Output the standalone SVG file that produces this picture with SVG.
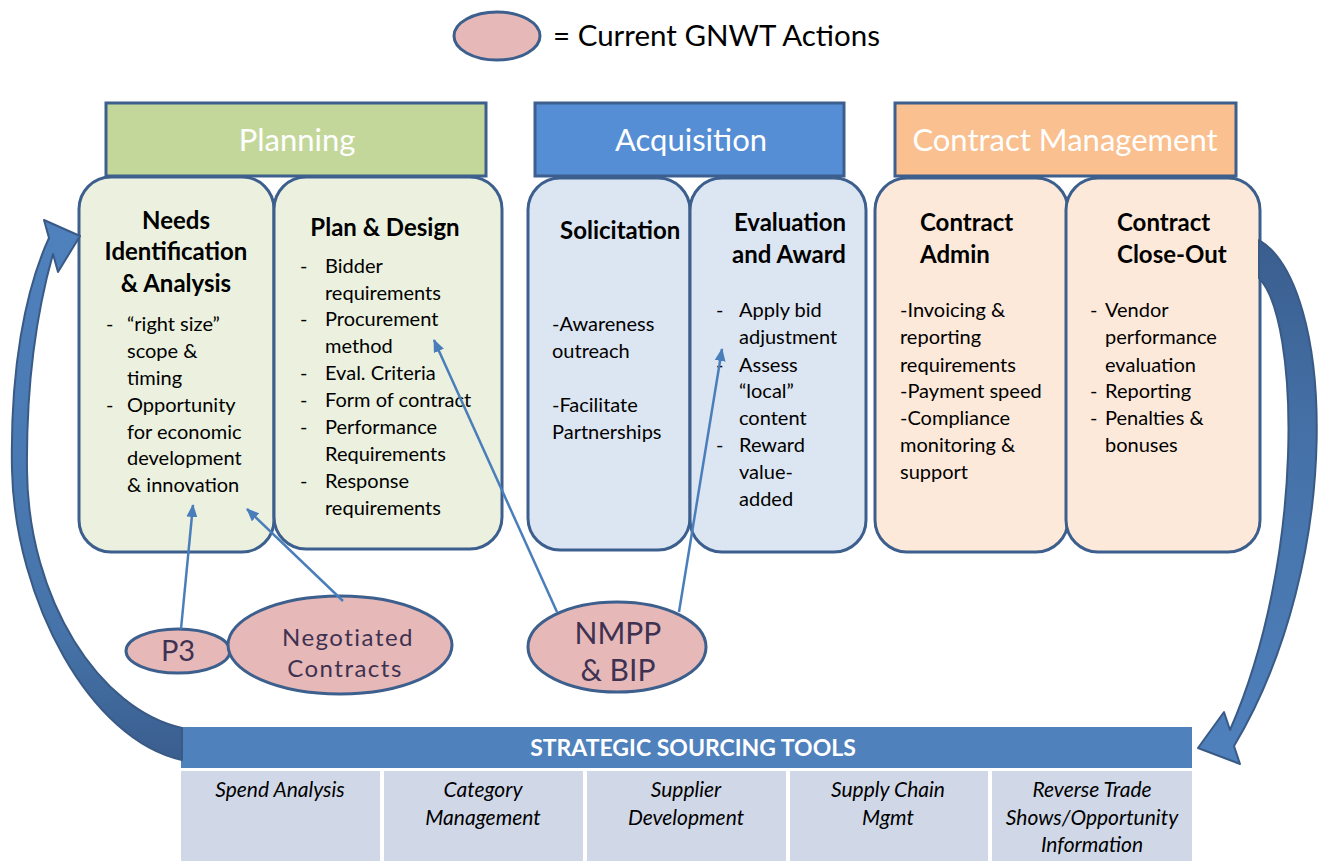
<svg xmlns="http://www.w3.org/2000/svg" width="1318" height="861" viewBox="0 0 1318 861">
  <style>
    text { font-family: Lato, "Liberation Sans", sans-serif; }
    .hdr { font-size: 31px; fill: #ffffff; text-anchor: middle; }
    .ttl { font-size: 24px; font-weight: bold; fill: #000000; }
    .mid { text-anchor: middle; }
    .txt { font-size: 20px; fill: #000000; }
    .box { stroke: #3C5F8D; stroke-width: 3; }
    .grn { fill: #EBF1DE; }
    .blu { fill: #DCE6F2; }
    .org { fill: #FDE9D9; }
    .oval { fill: #E6B9B8; stroke: #3C5F8D; stroke-width: 3; }
    .otx { fill: #3F3151; text-anchor: middle; }
    .conn { stroke: #4A7EBB; stroke-width: 2.5; fill: none; marker-end: url(#ah); }
    .cell { fill: #D0D8E8; }
    .ctx { font-size: 21px; font-style: italic; fill: #000000; text-anchor: middle; }
    .big { stroke: #3A5A86; stroke-width: 2; stroke-linejoin: round; }
  </style>
  <defs>
    <marker id="ah" markerUnits="userSpaceOnUse" markerWidth="13" markerHeight="11" refX="12" refY="5.5" orient="auto">
      <path d="M0,0 L13,5.5 L0,11 Z" fill="#4A7EBB"/>
    </marker>
    <linearGradient id="gL" gradientUnits="userSpaceOnUse" x1="0" y1="760" x2="0" y2="230">
      <stop offset="0" stop-color="#3A5E8E"/>
      <stop offset="0.25" stop-color="#4674AA"/>
      <stop offset="1" stop-color="#4F81BD"/>
    </linearGradient>
    <linearGradient id="gR" gradientUnits="userSpaceOnUse" x1="0" y1="240" x2="0" y2="765">
      <stop offset="0" stop-color="#3A5E8E"/>
      <stop offset="0.35" stop-color="#4470A6"/>
      <stop offset="1" stop-color="#4F81BD"/>
    </linearGradient>
  </defs>

  <!-- legend -->
  <g id="legend">
    <ellipse class="oval" cx="497" cy="36" rx="43" ry="24"/>
    <text x="553" y="46" style="font-size:29.5px;fill:#000">= Current GNWT Actions</text>
  </g>

  <!-- phase detail boxes -->
  <g id="needs">
    <rect class="box grn" x="79" y="177" width="195" height="375" rx="32"/>
    <text class="ttl mid" x="176" y="229">Needs</text>
    <text class="ttl mid" x="176" y="260">Identification</text>
    <text class="ttl mid" x="176" y="292">&amp; Analysis</text>
    <g class="txt">
      <text x="106" y="331">-</text><text x="127" y="331">“right size”</text>
      <text x="127" y="358">scope &amp;</text>
      <text x="127" y="385">timing</text>
      <text x="106" y="412">-</text><text x="127" y="412">Opportunity</text>
      <text x="127" y="439">for economic</text>
      <text x="127" y="465">development</text>
      <text x="127" y="492">&amp; innovation</text>
    </g>
  </g>

  <g id="plan-design">
    <rect class="box grn" x="274" y="177" width="228" height="372" rx="32"/>
    <text class="ttl mid" x="385" y="236">Plan &amp; Design</text>
    <g class="txt">
      <text x="300" y="273">-</text><text x="325" y="273">Bidder</text>
      <text x="325" y="300">requirements</text>
      <text x="300" y="326">-</text><text x="325" y="326">Procurement</text>
      <text x="325" y="353">method</text>
      <text x="300" y="380">-</text><text x="325" y="380">Eval. Criteria</text>
      <text x="300" y="407">-</text><text x="325" y="407">Form of contract</text>
      <text x="300" y="434">-</text><text x="325" y="434">Performance</text>
      <text x="325" y="461">Requirements</text>
      <text x="300" y="488">-</text><text x="325" y="488">Response</text>
      <text x="325" y="515">requirements</text>
    </g>
  </g>

  <g id="solicitation">
    <rect class="box blu" x="528" y="178" width="162" height="372" rx="32"/>
    <text class="ttl" x="560" y="239">Solicitation</text>
    <g class="txt">
      <text x="552" y="331">-Awareness</text>
      <text x="552" y="358">outreach</text>
      <text x="552" y="412">-Facilitate</text>
      <text x="552" y="439">Partnerships</text>
    </g>
  </g>

  <g id="evaluation">
    <rect class="box blu" x="690" y="178" width="176" height="374" rx="32"/>
    <text class="ttl mid" x="790" y="231">Evaluation</text>
    <text class="ttl mid" x="789" y="263">and Award</text>
    <g class="txt">
      <text x="716" y="317">-</text><text x="739" y="317">Apply bid</text>
      <text x="739" y="344">adjustment</text>
      <text x="716" y="372">-</text><text x="739" y="372">Assess</text>
      <text x="739" y="398">“local”</text>
      <text x="739" y="425">content</text>
      <text x="716" y="452">-</text><text x="739" y="452">Reward</text>
      <text x="739" y="479">value-</text>
      <text x="739" y="506">added</text>
    </g>
  </g>

  <g id="contract-admin">
    <rect class="box org" x="875" y="178" width="193" height="374" rx="32"/>
    <text class="ttl" x="920" y="231">Contract</text>
    <text class="ttl" x="920" y="263">Admin</text>
    <g class="txt">
      <text x="900" y="317">-Invoicing &amp;</text>
      <text x="900" y="344">reporting</text>
      <text x="900" y="372">requirements</text>
      <text x="900" y="398">-Payment speed</text>
      <text x="900" y="425">-Compliance</text>
      <text x="900" y="452">monitoring &amp;</text>
      <text x="900" y="479">support</text>
    </g>
  </g>

  <g id="close-out">
    <rect class="box org" x="1066" y="178" width="194" height="374" rx="32"/>
    <text class="ttl" x="1117" y="231">Contract</text>
    <text class="ttl" x="1117" y="263">Close-Out</text>
    <g class="txt">
      <text x="1090" y="317">-</text><text x="1105" y="317">Vendor</text>
      <text x="1105" y="344">performance</text>
      <text x="1105" y="372">evaluation</text>
      <text x="1090" y="398">-</text><text x="1105" y="398">Reporting</text>
      <text x="1090" y="425">-</text><text x="1105" y="425">Penalties &amp;</text>
      <text x="1105" y="452">bonuses</text>
    </g>
  </g>

  <!-- phase headers -->
  <g id="planning">
    <rect class="box" x="106" y="103" width="380" height="73" fill="#C4D79B"/>
    <text class="hdr" x="297" y="151">Planning</text>
  </g>
  <g id="acquisition">
    <rect class="box" x="535" y="103" width="309" height="73" fill="#558ED5"/>
    <text class="hdr" x="691" y="151">Acquisition</text>
  </g>
  <g id="contract-management">
    <rect class="box" x="895" y="103" width="341" height="73" fill="#FAC090"/>
    <text class="hdr" x="1065" y="151">Contract Management</text>
  </g>

  <!-- strategic sourcing tools table -->
  <g id="sourcing-tools">
    <rect x="181" y="727" width="1011" height="41" fill="#4F81BD"/>
    <text x="693" y="756" style="font-size:23px;font-weight:bold;fill:#fff;text-anchor:middle">STRATEGIC SOURCING TOOLS</text>
    <rect class="cell" x="181" y="771" width="199" height="90"/>
    <rect class="cell" x="384" y="771" width="199" height="90"/>
    <rect class="cell" x="587" y="771" width="199" height="90"/>
    <rect class="cell" x="790" y="771" width="198" height="90"/>
    <rect class="cell" x="992" y="771" width="200" height="90"/>
    <text class="ctx" x="280" y="797">Spend Analysis</text>
    <text class="ctx" x="483" y="797">Category</text>
    <text class="ctx" x="483" y="825">Management</text>
    <text class="ctx" x="686" y="797">Supplier</text>
    <text class="ctx" x="686" y="825">Development</text>
    <text class="ctx" x="888" y="797">Supply Chain</text>
    <text class="ctx" x="888" y="825">Mgmt</text>
    <text class="ctx" x="1092" y="797">Reverse Trade</text>
    <text class="ctx" x="1092" y="825">Shows/Opportunity</text>
    <text class="ctx" x="1092" y="852">Information</text>
  </g>

  <!-- current actions -->
  <g id="p3">
    <ellipse class="oval" cx="178" cy="651" rx="52" ry="22"/>
    <text class="otx" x="178" y="661" style="font-size:29px">P3</text>
  </g>
  <g id="negotiated-contracts">
    <ellipse class="oval" cx="340" cy="645" rx="112" ry="49"/>
    <text class="otx" x="348" y="646" style="font-size:24px;letter-spacing:1.5px">Negotiated</text>
    <text class="otx" x="345" y="677" style="font-size:24px;letter-spacing:1.5px">Contracts</text>
  </g>
  <g id="nmpp-bip">
    <ellipse class="oval" cx="617" cy="647" rx="89" ry="45"/>
    <text class="otx" x="618" y="644" style="font-size:30px">NMPP</text>
    <text class="otx" x="618" y="681" style="font-size:30px">&amp; BIP</text>
  </g>

  <!-- connectors -->
  <g id="connectors">
    <line class="conn" x1="181" y1="629" x2="193" y2="505"/>
    <line class="conn" x1="343" y1="601" x2="247" y2="509"/>
    <line class="conn" x1="557" y1="612" x2="434" y2="340"/>
    <line class="conn" x1="679" y1="612" x2="722" y2="349"/>
    <!-- cycle arrow back to needs identification -->
    <path class="big" fill="url(#gL)" d="M182,760 C90,740 15,600 12,470 C10,370 25,290 49,238 L44,220 L80,236 L58,272 L53,254 C40,300 26,370 27,470 C28,600 100,710 182,728 Z"/>
    <!-- close-out arrow down to the sourcing tools -->
    <path class="big" fill="url(#gR)" d="M1259,240 C1335,285 1345,560 1234,746 L1240,764 L1198,748 L1224,712 L1230,730 C1305,560 1300,320 1259,278 Z"/>
  </g>
</svg>
